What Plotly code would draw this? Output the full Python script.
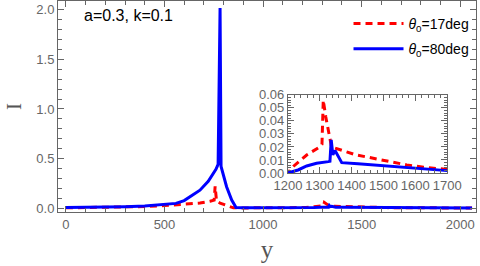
import plotly.graph_objects as go

# theta0 = 80 deg (blue, solid)
x_blue = [0, 100, 200, 300, 400, 500, 558, 600, 629, 680, 722, 761, 772, 782, 787, 793, 815, 841, 863,
          900, 1000, 1100, 1200, 1232, 1259, 1290, 1327, 1332, 1336, 1341, 1348, 1369, 1420, 1468, 1520,
          1573, 1630, 1694, 1700, 1800, 1900, 2000, 2060]
y_blue = [0.005, 0.007, 0.010, 0.014, 0.021, 0.033, 0.047, 0.075, 0.11, 0.18, 0.27, 0.39, 0.44, 2.02, 0.42,
          0.37, 0.215, 0.08, 0.005, 0.002, 0.001, 0.001, 0.0, 0.0023, 0.0054, 0.0074, 0.0087, 0.009, 0.0254,
          0.014, 0.0172, 0.0079, 0.007, 0.0062, 0.0053, 0.0044, 0.0034, 0.0019, 0.0018, 0.0012, 0.0008,
          0.0005, 0.0004]

# theta0 = 17 deg (red, dashed)
x_red = [0, 200, 400, 500, 600, 680, 731, 752, 757, 760, 764, 782, 807, 822, 850, 900, 1000, 1100, 1200,
         1217, 1259, 1300, 1307, 1311, 1319, 1337, 1364, 1415, 1468, 1521, 1573, 1626, 1689, 1700, 1800,
         1900, 2000, 2060]
y_red = [0.002, 0.006, 0.015, 0.025, 0.038, 0.05, 0.068, 0.08, 0.22, 0.13, 0.07, 0.05, 0.03, 0.02, 0.002,
         0.001, 0.0005, 0.0003, 0.0, 0.005, 0.0138, 0.020, 0.022, 0.056, 0.043, 0.020, 0.0177, 0.0138,
         0.0113, 0.0087, 0.0062, 0.0044, 0.0028, 0.0027, 0.0018, 0.0012, 0.0008, 0.0006]

main_xticks = [0, 500, 1000, 1500, 2000]
main_yticks = [0.0, 0.5, 1.0, 1.5, 2.0]
inset_xticks = [1200, 1300, 1400, 1500, 1600, 1700]
inset_yticks = [0.00, 0.01, 0.02, 0.03, 0.04, 0.05, 0.06]

RED = "rgb(255,0,0)"
BLUE = "rgb(0,0,255)"
FRAME = "#666666"
TICKFONT = dict(family="Liberation Sans, Arial, sans-serif", size=13, color="#666666")
DASH = "7px,5px"

fig = go.Figure()
fig.add_trace(go.Scatter(x=x_red, y=y_red, mode="lines", name="<i>θ</i><sub>0</sub>=17deg",
                         line=dict(color=RED, width=3, dash=DASH), legendgroup="g1",
                         xaxis="x", yaxis="y"))
fig.add_trace(go.Scatter(x=x_blue, y=y_blue, mode="lines", name="<i>θ</i><sub>0</sub>=80deg",
                         line=dict(color=BLUE, width=3), legendgroup="g2",
                         xaxis="x", yaxis="y"))
fig.add_trace(go.Scatter(x=x_red, y=y_red, mode="lines", showlegend=False,
                         line=dict(color=RED, width=3, dash=DASH),
                         xaxis="x2", yaxis="y2"))
fig.add_trace(go.Scatter(x=x_blue, y=y_blue, mode="lines", showlegend=False,
                         line=dict(color=BLUE, width=3),
                         xaxis="x2", yaxis="y2"))

axis_common = dict(showgrid=False, zeroline=False, showline=True, linecolor=FRAME, linewidth=1,
                   mirror="ticks", ticks="inside", tickcolor=FRAME, ticklen=6, tickwidth=1,
                   tickfont=TICKFONT, automargin=False)

fig.update_layout(
    width=480, height=266,
    margin=dict(l=58, r=4, t=1, b=54),
    paper_bgcolor="white", plot_bgcolor="white",
    xaxis=dict(**axis_common, range=[-40, 2080], tickvals=main_xticks, domain=[0, 1],
               minor=dict(dtick=100, ticks="inside", ticklen=4, tickcolor=FRAME),
               title=dict(text="y", font=dict(family="Liberation Serif, Times New Roman, serif",
                                               size=25, color="#555555"), standoff=9)),
    yaxis=dict(**axis_common, range=[-0.04, 2.09], tickvals=main_yticks, tickformat=".1f",
               domain=[0, 1],
               minor=dict(dtick=0.1, ticks="inside", ticklen=4, tickcolor=FRAME),
               title=dict(text="I", font=dict(family="Liberation Serif, Times New Roman, serif",
                                               size=21, color="#555555"), standoff=8)),
    xaxis2=dict(**axis_common, range=[1200, 1700], tickvals=inset_xticks, anchor="y2",
                domain=[0.550, 0.931],
                minor=dict(dtick=20, ticks="inside", ticklen=3, tickcolor=FRAME)),
    yaxis2=dict(**axis_common, range=[0, 0.06], tickvals=inset_yticks, tickformat=".2f", anchor="x2",
                domain=[0.185, 0.555],
                minor=dict(dtick=0.002, ticks="inside", ticklen=3, tickcolor=FRAME)),
    showlegend=True,
    legend=dict(x=0.695, y=0.967, xanchor="left", yanchor="top", bgcolor="rgba(0,0,0,0)",
                font=dict(family="Liberation Sans, Arial, sans-serif", size=14, color="black"),
                itemwidth=50, tracegroupgap=4),
    annotations=[dict(text="a=0.3, k=0.1", xref="paper", yref="paper", x=0.057, y=0.93,
                      xanchor="left", yanchor="middle", showarrow=False,
                      font=dict(family="Liberation Sans, Arial, sans-serif", size=16, color="black"))],
)

fig.write_html("out.html", config={"displayModeBar": False},
               post_script="document.body.style.margin='0';")
